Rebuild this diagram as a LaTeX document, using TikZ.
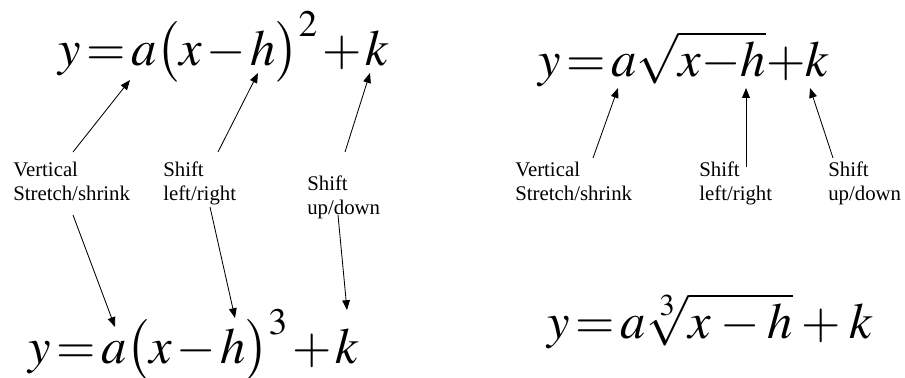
\documentclass[tikz,border=0pt]{standalone}
\usepackage{amsmath}
\usepackage{mathptmx}
\usepackage{fontspec}
\setmainfont{Liberation Serif}
\usetikzlibrary{arrows.meta}
\newcommand\tightmath[1]{\thickmuskip=2mu\relax\medmuskip=#1mu\relax}

\begin{document}
\begin{tikzpicture}[
  x=0.025cm,y=-0.025cm,>={Triangle[length=7pt,width=5.5pt]},
  eqn/.style={anchor=base west,inner sep=0pt,
              font=\fontsize{36}{40}\selectfont\tightmath{#1}},
  eqn/.default=1.5,
  lbl/.style={anchor=base west,inner sep=0pt,align=left,
              font=\fontsize{14.8}{17}\selectfont},
  arr/.style={->,line width=0.6pt},
]
  \useasboundingbox (0,0) rectangle (905,377);

  % equations
  \node[eqn] (sq)  at (58,65)   {$y=a\bigl(x-h\bigr)^2+k$};
  \node[eqn] (cu)  at (28,363)  {$y=a\bigl(x-h\bigr)^3+k$};
  \node[eqn=0] (rt)  at (538,76)  {$y=a\sqrt{x-h}+k$};
  \node[eqn=3] (crt) at (547,338) {$y=a\sqrt[3]{x-h}+k$};

  % labels (base = last line)
  \node[lbl] (vl) at (13,200)  {Vertical\\Stretch/shrink};
  \node[lbl] (hl) at (163,200) {Shift\\left/right};
  \node[lbl] (kl) at (307,214) {Shift\\up/down};
  \node[lbl] (vr) at (515,200) {Vertical\\Stretch/shrink};
  \node[lbl] (hr) at (699,200) {Shift\\left/right};
  \node[lbl] (kr) at (828,200) {Shift\\up/down};

  % arrow ends
  \coordinate (vlu) at (73,152);  \coordinate (sqa) at (130,80);
  \coordinate (hlu) at (218,152); \coordinate (sqh) at (258,73);
  \coordinate (klu) at (345,152); \coordinate (sqk) at (370,73);
  \coordinate (vld) at (73,215);  \coordinate (cua) at (115,327);
  \coordinate (hld) at (210,207); \coordinate (cuh) at (235,318);
  \coordinate (kld) at (338,215); \coordinate (cuk) at (347,310);
  \coordinate (vru) at (593,158); \coordinate (rta) at (618,88);
  \coordinate (hru) at (746,167); \coordinate (rth) at (746,88);
  \coordinate (kru) at (833,158); \coordinate (rtk) at (810,88);

  \draw[arr] (vlu) -- (sqa);
  \draw[arr] (hlu) -- (sqh);
  \draw[arr] (klu) -- (sqk);
  \draw[arr] (vld) -- (cua);
  \draw[arr] (hld) -- (cuh);
  \draw[arr] (kld) -- (cuk);
  \draw[arr] (vru) -- (rta);
  \draw[arr] (hru) -- (rth);
  \draw[arr] (kru) -- (rtk);
\end{tikzpicture}
\end{document}
